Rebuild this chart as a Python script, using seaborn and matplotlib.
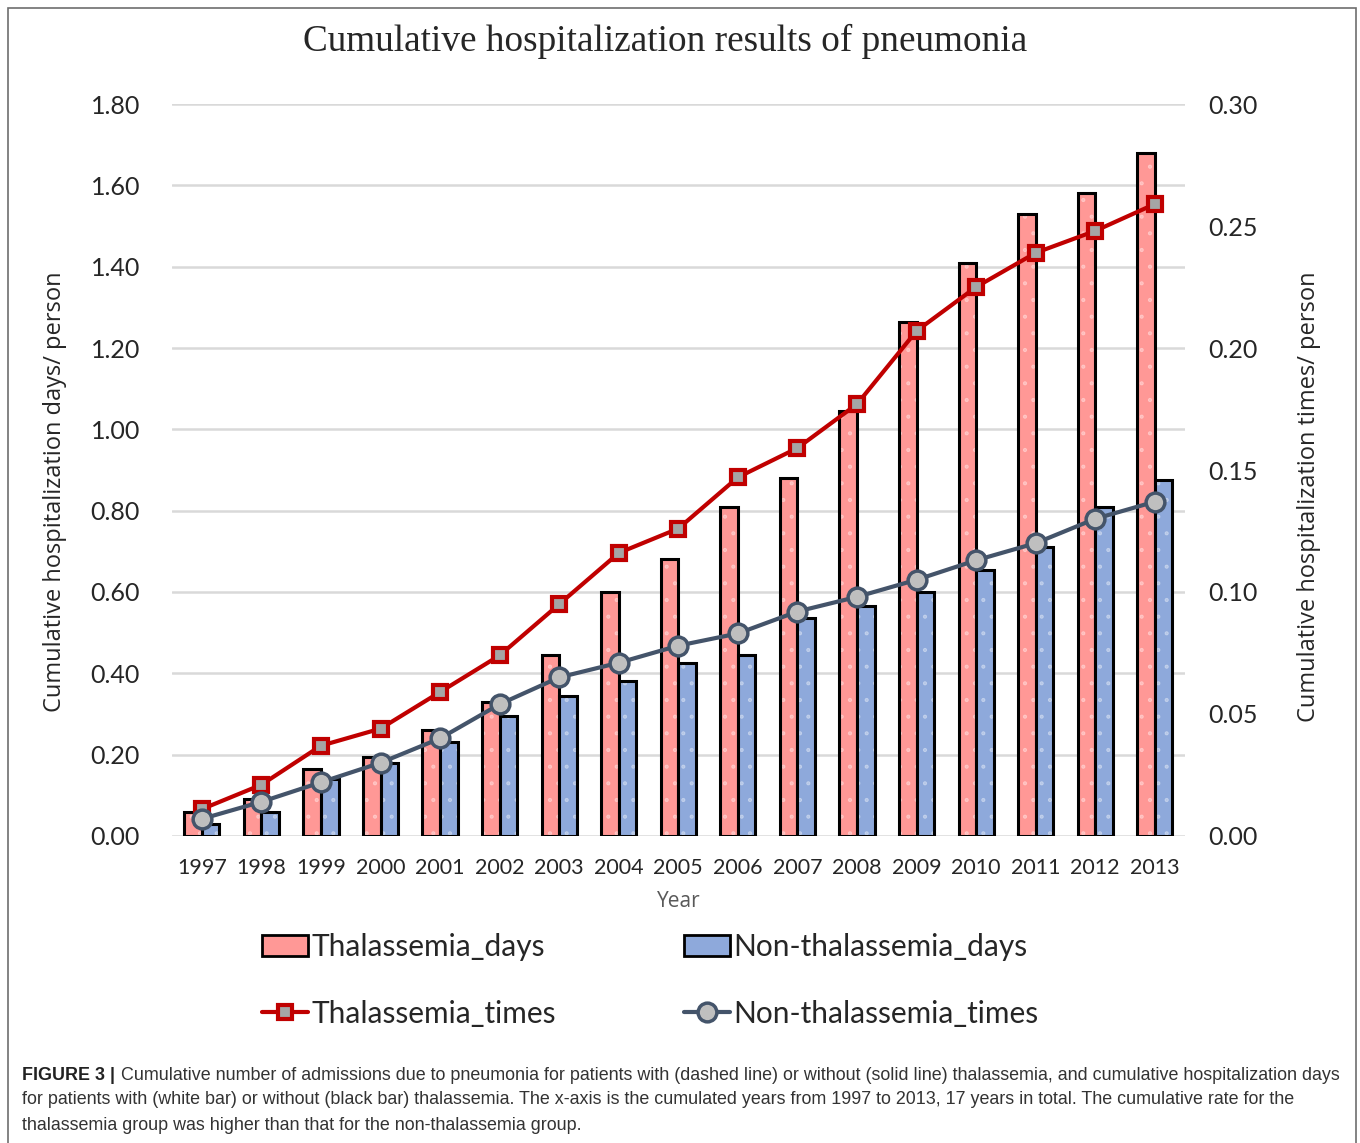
import numpy as np
import pandas as pd
import matplotlib.pyplot as plt
import seaborn as sns
from matplotlib.patches import Rectangle, Patch
from matplotlib.lines import Line2D

years = [str(y) for y in range(1997, 2014)]
thal_days = [0.06, 0.09, 0.165, 0.195, 0.26, 0.33, 0.445, 0.60, 0.68, 0.81, 0.88,
             1.045, 1.265, 1.41, 1.53, 1.58, 1.68]
non_days = [0.03, 0.06, 0.14, 0.18, 0.23, 0.295, 0.345, 0.38, 0.425, 0.445, 0.535,
            0.565, 0.60, 0.655, 0.71, 0.81, 0.875]
thal_times = [0.011, 0.021, 0.037, 0.044, 0.059, 0.074, 0.095, 0.116, 0.126, 0.147,
              0.159, 0.177, 0.207, 0.225, 0.239, 0.248, 0.259]
non_times = [0.007, 0.014, 0.022, 0.030, 0.040, 0.054, 0.065, 0.071, 0.078, 0.083,
             0.092, 0.098, 0.105, 0.113, 0.120, 0.130, 0.137]

groups = ['Thalassemia', 'Non-thalassemia']
pink = '#FF9896'
blue = '#8EA9DB'
red = '#C00000'
slate = '#44546A'

days_df = pd.DataFrame({
    'year': years * 2,
    'days': thal_days + non_days,
    'group': [groups[0]] * len(years) + [groups[1]] * len(years),
})
times_df = pd.DataFrame({
    'year': years * 2,
    'times': thal_times + non_times,
    'group': [groups[0]] * len(years) + [groups[1]] * len(years),
})

sns.set_style('white')
plt.rcParams['font.family'] = ['Lato', 'DejaVu Sans']
plt.rcParams['hatch.linewidth'] = 0.6

fig = plt.figure(figsize=(13.6, 11.43), dpi=100)
ax = fig.add_axes([0.1265, 0.2686, 0.7445, 0.6404])

sns.barplot(data=days_df, x='year', y='days', hue='group', hue_order=groups,
            palette=[pink, blue], width=0.59, edgecolor='black', linewidth=2.2,
            saturation=1, legend=False, ax=ax)

# faint white dot pattern inside the bars
for p in ax.patches:
    p.set_hatch('.')
    if hasattr(p, 'set_hatchcolor'):
        p.set_hatchcolor((1, 1, 1, 0.35))
    else:
        p._hatch_color = (1, 1, 1, 0.35)

ax.set_ylim(0, 1.8)
ax.set_yticks(np.arange(0, 1.81, 0.2))
ax.set_yticklabels([f'{v:.2f}' for v in np.arange(0, 1.81, 0.2)], fontsize=18)
ax.yaxis.grid(True, color='#D9D9D9', linewidth=1.8)
ax.set_axisbelow(True)
for s in ax.spines.values():
    s.set_visible(False)
ax.tick_params(axis='y', length=0, pad=23)
ax.tick_params(axis='x', length=0, pad=16, labelsize=15.5)
ax.set_xlabel('Year', fontsize=15, color='#595959', labelpad=9, family='Open Sans')
ax.set_ylabel('Cumulative hospitalization days/ person', fontsize=17,
              family='Open Sans')
ax.yaxis.set_label_coords(-0.104, 0.47)

ax2 = ax.twinx()
sns.pointplot(data=times_df[times_df.group == groups[0]], x='year', y='times',
              color=red, marker='s', markersize=10, linewidth=3, errorbar=None,
              ax=ax2)
sns.pointplot(data=times_df[times_df.group == groups[1]], x='year', y='times',
              color=slate, marker='o', markersize=13.5, linewidth=3, errorbar=None,
              ax=ax2)
ax2.lines[0].set_markerfacecolor('#A5A5A5')
ax2.lines[0].set_markeredgecolor(red)
ax2.lines[0].set_markeredgewidth(3)
ax2.lines[1].set_markerfacecolor('#BFBFBF')
ax2.lines[1].set_markeredgecolor(slate)
ax2.lines[1].set_markeredgewidth(2.5)

ax2.set_ylim(0, 0.30)
ax2.set_yticks(np.arange(0, 0.301, 0.05))
ax2.set_yticklabels([f'{v:.2f}' for v in np.arange(0, 0.301, 0.05)], fontsize=18)
ax2.tick_params(axis='y', length=0, pad=17)
ax2.set_ylabel('Cumulative hospitalization times/ person', fontsize=17,
               family='Open Sans')
ax2.yaxis.set_label_coords(1.111, 0.463)
ax2.set_xlim(-0.5, len(years) - 0.5)
ax.set_xlim(-0.5, len(years) - 0.5)
ax2.grid(False)
for s in ax2.spines.values():
    s.set_visible(False)

fig.text(0.489, 0.9635, 'Cumulative hospitalization results of pneumonia',
         ha='center', va='center', fontsize=26.8, family='Liberation Serif')

handles = [
    Patch(facecolor=pink, edgecolor='black', linewidth=2),
    Line2D([], [], color=red, marker='s', markersize=10, linewidth=3,
           markerfacecolor='#A5A5A5', markeredgecolor=red, markeredgewidth=3),
    Patch(facecolor=blue, edgecolor='black', linewidth=2),
    Line2D([], [], color=slate, marker='o', markersize=13.5, linewidth=3,
           markerfacecolor='#BFBFBF', markeredgecolor=slate, markeredgewidth=2.5),
]
labels = ['Thalassemia_days', 'Thalassemia_times',
          'Non-thalassemia_days', 'Non-thalassemia_times']
fig.legend(handles, labels, ncol=2, loc='center', bbox_to_anchor=(0.478, 0.1425),
           frameon=False, fontsize=21.5, handlelength=1.55, handletextpad=0.1,
           columnspacing=4.3, labelspacing=1.3)

fig.add_artist(Rectangle((8 / 1360, -0.01), 1348 / 1360, 1 - 8 / 1143 + 0.01,
                         transform=fig.transFigure, fill=False,
                         edgecolor='#6E6E6E', linewidth=1.2, clip_on=False))

cap_font = ['Liberation Sans', 'DejaVu Sans']
cap_size = 12.9
fig.text(22 / 1360, 1 - 1075 / 1143, 'FIGURE 3 |', fontsize=cap_size,
         fontweight='bold', family=cap_font, va='center', color='#222222')
fig.text(121 / 1360, 1 - 1075 / 1143,
         'Cumulative number of admissions due to pneumonia for patients with (dashed line) '
         'or without (solid line) thalassemia, and cumulative hospitalization days',
         fontsize=cap_size, family=cap_font, va='center', color='#333333')
fig.text(22 / 1360, 1 - 1100 / 1143,
         'for patients with (white bar) or without (black bar) thalassemia. The x-axis is the '
         'cumulated years from 1997 to 2013, 17 years in total. The cumulative rate for the',
         fontsize=cap_size, family=cap_font, va='center', color='#333333')
fig.text(22 / 1360, 1 - 1125 / 1143,
         'thalassemia group was higher than that for the non-thalassemia group.',
         fontsize=cap_size, family=cap_font, va='center', color='#333333')

fig.savefig('out.png', dpi=100)
